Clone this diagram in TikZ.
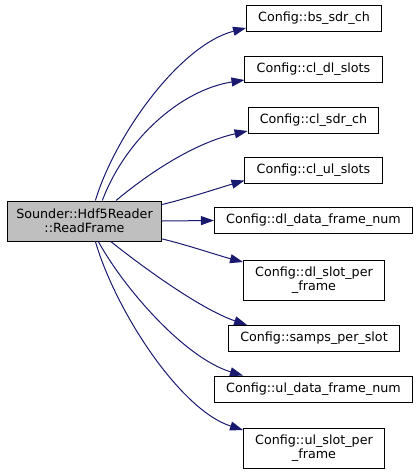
\documentclass[tikz,border=0pt]{standalone}
\usepackage{fontspec}
\setmainfont{DejaVu Sans}
\usetikzlibrary{arrows.meta}
\definecolor{edgeblue}{HTML}{191970}
\tikzset{
  member/.style={draw=black, line width=1pt, fill=white, inner xsep=11.7pt, inner ysep=0pt,
    minimum height=26pt, align=center, font=\fontsize{12.7}{14}\selectfont},
  call/.style={draw=edgeblue, line width=1pt, -{Triangle[length=13pt,width=9pt]}}
}
\begin{document}
\begin{tikzpicture}[x=1pt,y=-1pt]
\useasboundingbox (0,0) rectangle (420,474);
% caller
\node[member, fill=black!25, minimum height=40pt, inner xsep=9pt] (read) at (84.5,221) {Sounder::Hdf5Reader\\::ReadFrame};
% callees
\node[member] (bssdr) at (314,18) {Config::bs\_sdr\_ch};
\node[member] (cldl) at (313.5,69) {Config::cl\_dl\_slots};
\node[member] (clsdr) at (313.5,120) {Config::cl\_sdr\_ch};
\node[member] (clul) at (313.5,170.5) {Config::cl\_ul\_slots};
\node[member] (dldata) at (313.5,220.5) {Config::dl\_data\_frame\_num};
\node[member, minimum height=40pt] (dlslot) at (314,280) {Config::dl\_slot\_per\\\_frame};
\node[member] (samps) at (314,338.5) {Config::samps\_per\_slot};
\node[member] (uldata) at (313.5,389) {Config::ul\_data\_frame\_num};
\node[member, minimum height=40pt] (ulslot) at (314,448) {Config::ul\_slot\_per\\\_frame};
% calls
\draw[call] (read.62) .. controls +(20,-66) and +(-66,17) .. ([yshift=-10pt]bssdr.west);
\draw[call] (read.49) .. controls +(23,-61) and +(-64,10) .. ([yshift=-11pt]cldl.west);
\draw[call] (read.33) .. controls +(25,-21) and +(-58,13) .. ([yshift=-11pt]clsdr.west);
\draw[call] (read.12) .. controls +(25,-6) and +(-24,7) .. ([yshift=-10pt]clul.west);
\draw[call] (read.east) -- (dldata.west);
\draw[call] (read.-13) .. controls +(25,6) and +(-23,-6) .. ([yshift=18pt]dlslot.west);
\draw[call] (read.-38) .. controls +(30,24) and +(-47,-16) .. ([xshift=19pt]samps.north west);
\draw[call] (read.-56) .. controls +(27,49) and +(-57,-17) .. ([xshift=29pt]uldata.north west);
\draw[call] (read.-62) .. controls +(20,69) and +(-63,-20) .. ([yshift=18pt]ulslot.west);
\end{tikzpicture}
\end{document}
